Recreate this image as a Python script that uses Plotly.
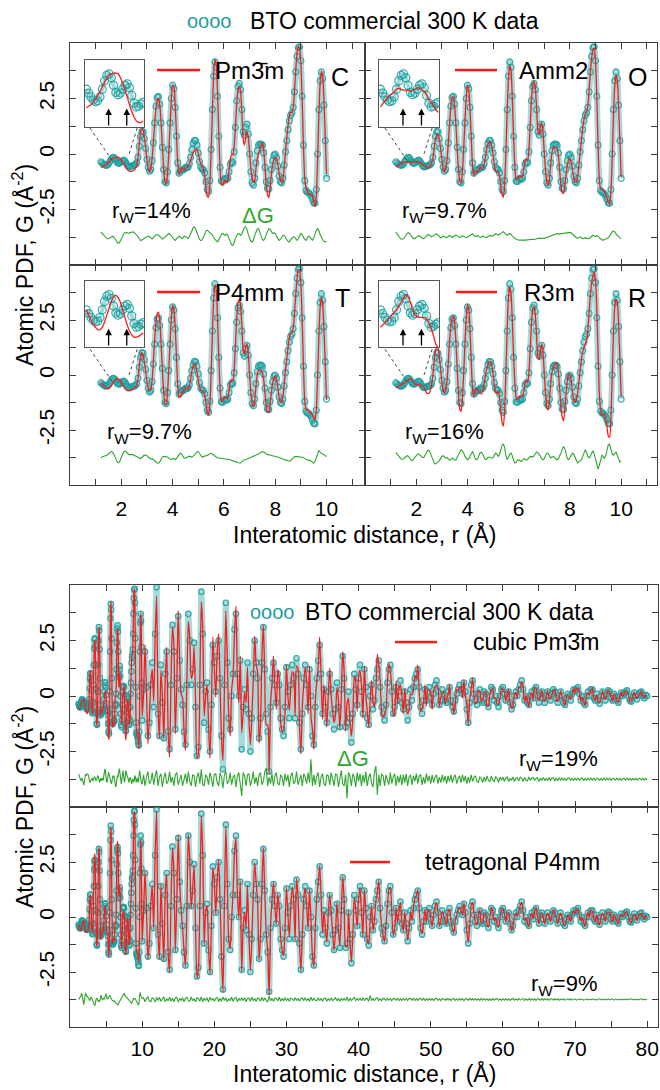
import numpy as np
import plotly.graph_objects as go

FONT = "Liberation Sans, Arial, Helvetica, sans-serif"
TEAL = "#1c9e9e"
TEAL_BAND = "rgba(70,180,180,0.5)"
RED = "#ff1a1a"
GREEN = "#2fa52f"
AXC = "#3c3c3c"

# ---------------- data: short range (1.2 - 10 A, step 0.05) ----------------
r_top = np.round(np.arange(1.2, 10.0001, 0.05), 2)
G_top = np.array([
    -0.35, -0.40, -0.45, -0.49, -0.51, -0.50, -0.45, -0.35, -0.24, -0.17,
    -0.15, -0.20, -0.30, -0.39, -0.42, -0.40, -0.35, -0.30, -0.28, -0.33,
    -0.43, -0.53, -0.58, -0.57, -0.54, -0.52, -0.50, -0.48, -0.40, -0.15,
    0.35, 0.80, 1.02, 1.00, 0.70, 0.25, -0.25, -0.60, -0.78, -0.70,
    -0.30, 0.50, 1.40, 2.15, 2.55, 2.60, 2.25, 1.40, 0.30, -0.70,
    -1.25, -1.30, -0.80, 0.20, 1.40, 2.50, 3.10, 2.95, 2.10, 0.80,
    -0.40, -0.87, -0.80, -0.70, -0.72, -0.68, -0.60, -0.62, -0.60, -0.45,
    -0.15, 0.20, 0.48, 0.62, 0.60, 0.40, 0.05, -0.35, -0.60, -0.68,
    -0.70, -0.85, -1.25, -1.60, -1.70, -1.20, 0.20, 2.00, 3.50, 4.15,
    3.90, 2.60, 0.80, -0.60, -1.22, -1.25, -1.15, -1.10, -1.15, -1.10,
    -0.80, -0.45, -0.35, -0.40, 0.10, 1.20, 2.40, 3.05, 3.18, 2.90,
    2.00, 1.00, 0.85, 1.20, 1.35, 0.90, 0.00, -0.80, -1.30, -1.40,
    -1.10, -0.40, 0.15, 0.40, 0.45, 0.45, 0.40, 0.05, -0.60, -1.25,
    -1.55, -1.58, -1.20, -0.70, -0.30, -0.05, 0.00, -0.15, -0.55, -1.00,
    -1.25, -1.30, -1.10, -0.50, 0.10, 0.60, 1.10, 1.50, 1.75, 1.85,
    2.10, 2.80, 3.70, 4.40, 4.80, 4.83, 4.20, 2.60, 0.40, -1.20,
    -1.65, -1.72, -1.75, -1.80, -1.90, -2.05, -2.20, -2.22, -1.60, 0.00,
    2.00, 3.30, 3.70, 3.40, 2.20, 0.60, -1.10])

# difference curves dG = G_data - G_model (short range refinements)
dG_cubic = np.array([
    .24, .17, .10, .03, -.03, -.07, -.07, -.03, .02, .04,
    .02, -.05, -.16, -.25, -.27, -.20, -.08, .06, .17, .22,
    .21, .18, .18, .21, .24, .24, .22, .17, .10, .02,
    -.10, -.15, -.12, -.08, -.05, -.02, .02, .05, .03, -.04,
    -.08, -.02, .06, .10, .12, .10, .04, -.04, -.08, -.05,
    .00, .05, .12, .17, .14, .05, .00, -.08, -.14, -.10,
    -.02, .05, .02, -.06, -.04, .05, .04, .00, -.05, .02,
    .15, .30, .42, .47, .38, .20, .02, -.10, -.15, -.12,
    .00, .15, .28, .32, .25, .20, .17, .10, .00, -.10,
    -.18, -.21, -.12, .02, .12, .17, .12, .08, .15, .10,
    -.05, -.22, -.34, -.36, -.25, -.05, .10, .17, .15, .08,
    .15, .32, .45, .47, .35, .12, -.08, -.18, -.21, -.12,
    .08, .25, .37, .39, .25, .05, -.10, -.14, -.05, .12,
    .28, .39, .35, .22, .17, .20, .17, .05, -.08, -.14,
    -.10, .00, .08, .09, .02, -.10, -.18, -.21, -.12, -.02,
    .02, .00, -.08, -.14, -.06, .08, .17, .12, .00, -.10,
    -.14, -.05, .06, .02, -.08, -.14, -.04, .15, .32, .39,
    .30, .12, -.02, -.10, -.18, -.21, -.20])
dG_amm2 = np.array([
    .23, .14, .05, -.03, -.08, -.09, -.07, .00, .10, .18,
    .21, .16, .06, -.02, -.06, -.05, -.02, .04, .08, .05,
    -.01, -.05, -.06, -.01, .07, .13, .10, .05, .02, .05,
    .10, .14, .16, .10, .02, -.03, .00, .05, .03, -.02,
    .00, .04, .08, .05, -.01, .02, .08, .10, .06, .01,
    -.02, .02, .06, .03, -.01, -.02, .00, .05, .10, .12,
    .16, .10, .03, .06, .08, .03, -.01, .02, .05, .02,
    -.01, -.02, .03, .07, .08, .05, .06, .12, .16, .14,
    .10, .13, .18, .22, .25, .20, .12, .10, .15, .17,
    .12, .05, .00, -.05, -.08, -.12, -.13, -.13, -.12, -.12,
    -.13, -.13, -.12, -.11, -.12, -.10, -.08, -.09, -.10, -.08,
    -.06, -.05, -.04, -.05, -.06, -.06, -.05, -.02, .00, .02,
    .04, .06, .09, .12, .15, .17, .16, .14, .15, .17,
    .18, .19, .20, .21, .22, .20, .22, .20, .14, .08,
    .03, -.02, -.05, .00, .02, -.03, -.06, -.05, -.02, -.05,
    -.07, -.06, .00, .06, .09, .06, .03, .07, .05, -.02,
    -.08, -.12, -.13, -.10, -.06, -.04, -.02, .05, .15, .25,
    .28, .25, .15, .08, .03, -.03, -.06])
dG_p4mm = np.array([
    .00, .02, .03, .05, .07, .11, .16, .23, .27, .25,
    .18, .04, -.12, -.23, -.23, -.15, .00, .15, .27, .30,
    .25, .18, .13, .13, .14, .13, .10, .07, .05, .02,
    -.03, -.06, .00, .08, .12, .10, .08, .02, -.04, -.06,
    -.05, -.10, -.18, -.22, -.25, -.26, -.20, -.08, .02, .05,
    .04, .04, .02, -.03, -.08, -.10, -.06, -.04, -.10, -.05,
    .05, .14, .20, .15, .05, -.02, -.03, .00, .05, .06,
    .04, .02, .06, .10, .18, .25, .27, .18, .08, .02,
    .04, .06, .05, .08, .12, .17, .19, .15, .10, .05,
    .02, -.02, -.02, -.03, -.04, -.06, -.08, -.09, -.08, -.07,
    -.09, -.11, -.10, -.12, -.15, -.18, -.21, -.24, -.26, -.25,
    -.20, -.14, -.10, -.09, -.08, -.05, -.02, .00, .02, .05,
    .08, .11, .14, .18, .22, .26, .27, .25, .20, .15,
    .13, .12, .12, .10, .08, .07, .05, .04, .02, .00,
    -.02, -.05, -.08, -.10, -.12, -.13, -.15, -.17, -.14, -.08,
    -.02, .03, .05, .04, .03, .05, .04, .03, .00, -.04,
    -.08, -.12, -.14, -.12, -.16, -.22, -.26, -.18, .02, .22,
    .32, .25, .18, .17, .12, .08, .04])
dG_r3m = np.array([
    .23, .15, .07, .00, -.06, -.08, -.07, .00, .06, .08,
    .05, -.05, -.12, -.14, -.07, .02, .09, .15, .17, .12,
    .04, -.01, .01, .12, .26, .33, .32, .22, .05, -.15,
    -.25, -.30, -.24, -.22, -.15, -.05, .05, .08, .04, -.02,
    .00, -.05, -.12, -.10, -.02, -.06, -.12, -.10, .02, .15,
    .30, .36, .30, .22, .05, -.05, -.10, -.06, .05, .20,
    .27, .12, -.05, -.10, -.05, .10, .22, .24, .12, -.02,
    -.10, -.08, .00, .02, .00, -.03, .00, .10, .20, .15,
    .05, .15, .35, .55, .62, .45, .10, -.10, .00, .15,
    .20, .08, -.12, -.25, -.22, -.12, -.10, -.15, -.18, -.13,
    -.05, -.07, -.12, -.08, .00, .05, .04, .02, .08, .18,
    .25, .22, .15, .05, -.05, -.10, -.05, .10, .20, .18,
    .05, -.02, .02, .05, -.02, -.08, -.10, -.05, .05, .20,
    .38, .50, .40, .15, -.05, -.10, .00, .10, .20, .15,
    .00, -.15, -.25, -.20, -.15, -.10, .05, .25, .35, .25,
    .05, -.02, .05, .20, .30, .15, -.10, -.40, -.53, -.35,
    -.05, .10, .05, -.05, .10, .35, .58, .60, .40, .15,
    .10, .20, .25, .10, -.10, -.20, -.15])

# ---------------- data: long range (10.2 - 80 A, step 0.2) ----------------
r_long = np.round(np.arange(10.2, 80.0001, 0.2), 2)
G_long = np.array([
    0.3, 2.0, 0.4, -1.8, -1.2, 0.5, 1.5, -0.5, 2.8, 4.9,
    -0.8, -1.8, 1.4, -0.3, -1.9, 1.0, 2.0, -1.6, -2.4, 0.5,
    3.2, 2.0, -1.5, 0.8, 3.6, 1.6, 0.3, -0.4, -1.6, -2.2,
    0.5, 3.7, 2.5, 0.5, 1.2, 2.4, -0.5, -2.7, -2.3, 0.5,
    4.7, 2.8, -1.2, 0.2, 0.6, -1.5, -2.5, -0.4, 2.3, 1.5,
    0.2, 1.8, 2.5, 0.8, -1.8, -3.3, 0.5, 4.2, 1.5, -1.0,
    -1.5, 0.0, 1.0, 3.0, 3.7, 1.0, 0.0, 1.6, -2.4, -0.5,
    0.3, -0.6, 1.5, -0.8, -2.5, -1.0, 1.0, 2.5, 1.5, 0.8,
    -1.9, -1.0, 1.5, 3.1, 1.2, -0.8, -1.6, -3.4, -0.5, 0.8,
    1.5, 0.5, -0.3, 1.0, 0.5, -1.0, -1.5, -1.8, -0.5, 1.3,
    0.2, -1.0, 0.5, 1.4, 0.8, -1.0, 1.7, 1.0, -1.2, -2.4,
    -0.8, 0.8, 1.4, 0.5, -0.5, 1.2, 0.0, -1.8, -2.2, -0.5,
    0.8, 1.6, 2.3, 1.0, -0.8, 0.3, -0.5, -1.2, 0.2, 1.0,
    0.3, -0.8, -1.5, -0.6, 0.6, -0.5, -1.4, 0.3, 1.8, 0.8,
    -1.4, -1.2, 0.2, -1.0, -2.1, -0.8, 1.0, 0.3, -0.4, 0.8,
    1.4, 0.2, -0.8, 1.2, 0.4, -1.0, -1.3, 0.0, 0.5, -0.6,
    -0.2, 0.8, 1.2, 1.6, 0.4, -0.5, -0.8, -1.1, -0.4, 0.6,
    1.2, 1.4, 0.2, -0.8, -0.5, 0.4, -0.2, 0.2, 0.7, -0.3,
    -0.6, 0.2, -0.3, -1.1, -0.5, 0.3, -0.2, 0.4, 0.8, 1.0,
    1.2, 0.4, -0.5, -0.8, -0.2, 0.3, -0.2, 0.2, 0.4, -0.1,
    -0.4, 0.1, 0.5, 0.7, 0.2, -0.4, -0.2, 0.3, 0.1, -0.2,
    -0.3, 0.2, 0.4, -0.2, -0.5, -0.7, -0.2, 0.1, 0.3, 0.5,
    0.3, 0.1, 0.6, 0.2, -0.6, -1.2, -0.3, 0.5, 0.7, 0.1,
    -0.2, -0.4, 0.1, 0.3, -0.2, -0.3, 0.2, 0.1, -0.3, -0.5,
    0.0, 0.4, 0.3, -0.2, 0.0, -0.3, -0.5, 0.0, 0.3, 0.4,
    0.1, -0.2, 0.1, 0.2, -0.3, -0.6, -0.4, 0.0, 0.2, 0.0,
    0.3, 0.5, 0.7, 0.3, -0.2, 0.0, -0.3, -0.4, 0.0, 0.2,
    -0.1, 0.3, 0.4, 0.0, -0.3, 0.1, 0.2, -0.1, -0.3, 0.0,
    0.2, 0.0, -0.2, 0.1, 0.3, 0.2, -0.1, -0.3, 0.0, 0.2,
    0.0, -0.3, -0.4, -0.1, 0.1, 0.0, -0.2, 0.1, 0.3, 0.2,
    0.3, 0.4, 0.1, -0.2, 0.0, -0.3, -0.4, 0.0, 0.2, 0.0,
    0.3, 0.3, -0.1, -0.2, 0.1, -0.2, -0.35, 0.0, 0.2, 0.0,
    -0.2, 0.1, 0.25, 0.2, -0.1, -0.2, 0.1, 0.0, -0.2, -0.3,
    0.0, 0.15, 0.0, 0.1, 0.2, 0.25, 0.0, -0.2, -0.25, 0.0,
    0.15, 0.0, -0.15, 0.05, 0.15, 0.2, 0.0, -0.1, 0.05, 0.0])
dG_cubic_long = np.array([
    .2, -.3, .1, .35, -.2, -.1, .3, -.25, .15, .4,
    -.3, .1, .25, -.35, .05, .3, -.2, -.1, .35, -.15,
    .1, -.3, .2, .3, -.25, .05, .2, -.3, -.05, .25,
    -.2, .35, -.1, -.3, .2, .15, -.35, .1, .3, -.2,
    .45, -.25, -.3, .2, .1, -.25, .3, .05, -.35, .2,
    .25, -.15, -.3, .3, .1, -.4, .2, .35, -.2, -.1,
    .3, -.25, .1, .2, -.35, .15, .3, -.2, -.75, .3,
    .15, -.3, .2, .25, -.3, -.05, .35, -.2, .1, -.3,
    .2, .3, -.25, -.1, .35, .5, -.3, .1, -.2, .25,
    -.3, .15, .3, -.2, -.25, .2, .1, -.3, .25, -.1,
    .2, -.35, .15, .3, -.2, -.1, .35, -.25, .05, .2,
    -.3, .25, .1, -.2, .3, -.15, .9, -.3, .2, -.25,
    .15, .3, -.35, .1, .25, -.2, -.3, .2, .15, -.25,
    .3, -.1, -.3, .25, .2, -.35, .1, .4, -.2, -.3,
    .2, -.85, .3, .15, -.3, .25, .1, -.35, .3, -.1,
    .25, -.3, .2, -.15, .35, -.3, .1, .25, -.2, -.35,
    .3, .6, -.7, .2, -.3, .25, .15, -.3, .2, -.1,
    -.25, .3, -.2, .1, .25, -.3, .15, -.15, .2, -.25,
    .2, -.15, .25, -.3, .1, .2, -.25, .15, -.1, .25,
    -.2, .15, .2, -.25, .1, -.2, .25, -.1, .15, -.2,
    .2, -.15, .1, .2, -.2, .1, -.15, .2, -.1, .15,
    -.2, .15, -.1, .2, -.15, .1, .2, -.2, .05, .15,
    -.15, .2, -.1, .15, -.2, .1, -.15, .2, -.1, .1,
    .15, -.1, -.15, .1, .05, -.15, .1, -.1, .15, -.05,
    -.1, .15, -.05, -.1, .1, .05, -.15, .1, -.05, .1,
    -.1, .05, .1, -.1, .05, -.05, .1, -.1, .05, .08,
    -.08, .1, .05, -.1, .08, -.05, -.08, .1, -.05, .05,
    .08, -.06, .05, .08, -.1, .05, -.05, .08, -.06, .04,
    -.05, .08, -.06, .05, .07, -.08, .04, -.05, .07, -.04,
    .06, -.05, .04, -.07, .05, .06, -.05, .04, -.06, .05,
    -.04, .06, -.05, .04, .05, -.06, .04, -.05, .05, -.03,
    .05, -.04, .05, -.05, .04, .03, -.05, .04, -.04, .05,
    -.04, .05, -.03, .04, -.05, .04, .03, -.04, .05, -.03,
    .04, -.05, .03, .04, -.04, .05, -.03, .04, -.04, .03,
    -.03, .04, -.04, .03, .04, -.03, .04, -.04, .03, -.02])
dG_p4mm_long = np.array([
    .08, -.1, .05, .12, -.06, -.1, .08, .04, -.12, .1,
    -.05, .1, -.08, .05, .12, -.1, .04, -.06, .1, -.08,
    .06, -.1, .08, .1, -.12, .05, -.04, .08, -.1, .06,
    .1, -.05, -.08, .12, -.06, .04, -.1, .08, .05, -.08,
    .12, -.1, .06, -.05, .08, -.12, .1, -.04, .06, -.08,
    .05, .1, -.1, .06, -.08, .12, -.05, .08, -.1, .04,
    -.06, .1, -.08, .05, .1, -.1, .06, -.05, .08, -.06,
    .08, -.1, .05, .06, -.08, .1, -.06, .04, -.08, .06,
    .05, -.08, .1, -.06, .08, -.05, -.1, .15, -.06, .05,
    -.08, .06, .05, -.06, .1, -.08, .04, -.05, .08, -.06,
    .05, -.08, .06, .04, -.06, .08, -.05, .06, -.08, .05,
    .06, -.05, .08, -.06, .04, -.08, .1, -.05, .06, -.04,
    -.06, .08, -.05, .06, -.08, .05, .06, -.06, .04, -.05,
    .06, -.05, .04, .08, -.06, .05, -.08, .06, -.04, .05,
    -.05, .12, -.08, .06, -.05, .04, .1, -.06, .05, -.04,
    .06, -.05, .08, -.06, .04, .05, -.08, .18, -.05, .06,
    -.06, .05, .08, -.05, .04, -.06, .05, .04, -.05, .06,
    -.04, .05, -.06, .04, .05, -.04, .06, -.05, .04, -.05,
    .05, -.04, .06, -.05, .04, .05, -.04, .06, -.05, .04,
    -.05, .04, .05, -.04, .06, -.05, .04, -.04, .05, -.03,
    .04, -.05, .04, .05, -.04, .03, -.05, .04, .03, -.04,
    .05, -.03, .04, -.05, .03, .04, -.04, .03, -.04, .05,
    -.03, .04, -.05, .03, .04, -.04, .05, -.03, .04, -.03,
    .04, -.03, .03, -.04, .05, -.03, .04, -.03, .03, -.04,
    .03, -.04, .04, -.03, .03, .04, -.03, .03, -.04, .03,
    -.03, .04, -.03, .03, -.04, .03, .04, -.03, .03, -.03,
    .04, -.03, .03, .05, -.04, .03, -.03, .04, -.03, .03,
    -.03, .03, -.04, .03, .03, -.03, .04, -.03, .03, -.02,
    .03, -.03, .02, .03, -.03, .04, -.02, .03, -.03, .02,
    -.02, .03, -.03, .02, .03, -.02, .03, -.03, .02, .03,
    -.03, .02, .03, -.02, .02, -.03, .02, .03, -.02, .02,
    -.02, .03, -.02, .02, -.03, .02, .02, -.02, .03, -.02,
    .02, -.02, .03, -.02, .02, .02, -.03, .02, -.02, .02,
    -.02, .02, -.02, .03, -.02, .02, -.02, .02, .02, -.02,
    .02, -.02, .02, -.02, .02, .03, -.02, .02, -.02, .01])

for a in (G_top, dG_cubic, dG_amm2, dG_p4mm, dG_r3m):
    assert len(a) == len(r_top), len(a)
for a in (G_long, dG_cubic_long, dG_p4mm_long):
    assert len(a) == len(r_long), len(a)

# labels
top_models = ["Pm3\u0304m", "Amm2", "P4mm", "R3m"]
top_letters = ["C", "O", "T", "R"]
top_rw = ["14%", "9.7%", "9.7%", "16%"]
top_diffs = [dG_cubic, dG_amm2, dG_p4mm, dG_r3m]
bottom_models = ["cubic Pm3\u0304m", "tetragonal P4mm"]
bottom_rw = ["19%", "9%"]
data_label = "BTO commercial 300 K data"
x_title = "Interatomic distance, r (\u00c5)"
y_title = "Atomic PDF, G (\u00c5<sup>-2</sup>)"
DIFF_OFFSET = -3.75

r_all = np.concatenate([r_top, r_long])
G_all = np.concatenate([G_top, G_long])
bottom_diffs = [np.concatenate([dG_cubic, dG_cubic_long]),
                np.concatenate([dG_p4mm, dG_p4mm_long])]

# ---------------- geometry (pixels) ----------------
W, H = 660, 1090
def fx(px): return px / W
def fy(py): return 1 - py / H

top_panels = [(70, 365, 43, 265), (365, 657, 43, 265), (70, 365, 265, 485), (365, 657, 265, 485)]
top_xmax = [11.5, 11.4, 11.5, 11.4]
inset_boxes = [(85, 144, 60, 127), (379, 439, 60, 127), (85, 144, 281, 347), (379, 439, 281, 347)]
bottom_panels = [(70, 658, 585, 807), (70, 658, 807, 1027)]

fig = go.Figure()
layout = {}
shapes = []
annotations = []

def txt(x, y, s, size, color="black", xanchor="left", angle=0):
    annotations.append(dict(x=fx(x), y=fy(y), xref="paper", yref="paper", text=s, showarrow=False,
                            xanchor=xanchor, yanchor="middle", textangle=angle,
                            font=dict(size=size, color=color, family=FONT)))

base_axis = dict(showline=True, linecolor=AXC, linewidth=1.3, mirror="ticks", ticks="inside",
                 ticklen=6, tickwidth=1.2, tickcolor=AXC, showgrid=False, zeroline=False,
                 tickfont=dict(size=21, color="black", family=FONT))
yvals = [-3.75, -2.5, -1.25, 0, 1.25, 2.5, 3.75]
ytext = ["", "-2.5", "", "0", "", "2.5", ""]

def add_data(xa, ya, r, G, fit, diff, msize, band_w):
    fig.add_trace(go.Scatter(x=r, y=G, mode="lines", line=dict(color=TEAL_BAND, width=band_w, shape="spline", smoothing=0.6),
                             xaxis=xa, yaxis=ya, showlegend=False, hoverinfo="skip"))
    fig.add_trace(go.Scatter(x=r, y=G, mode="markers",
                             marker=dict(symbol="circle-open", size=msize, color=TEAL, line=dict(width=1.2), opacity=0.85),
                             xaxis=xa, yaxis=ya, showlegend=False, hoverinfo="skip"))
    fig.add_trace(go.Scatter(x=r, y=fit, mode="lines", line=dict(color=RED, width=1.3, shape="spline", smoothing=0.6),
                             xaxis=xa, yaxis=ya, showlegend=False, hoverinfo="skip"))
    if diff is not None:
        fig.add_trace(go.Scatter(x=r, y=diff + DIFF_OFFSET, mode="lines", line=dict(color=GREEN, width=1.1),
                                 xaxis=xa, yaxis=ya, showlegend=False, hoverinfo="skip"))

# ---------------- top 2x2 panels ----------------
inset_mask = r_top <= 2.46
arrow_r = [1.69, 2.09]
link_lines = [((0.78, 1.17), (1.63, -0.27)), ((2.62, 1.17), (2.27, -0.12))]
for i in range(4):
    n = i + 1
    xa, ya = ("x" if n == 1 else f"x{n}"), ("y" if n == 1 else f"y{n}")
    x0, x1, y0, y1 = top_panels[i]
    fit = G_top - top_diffs[i]
    add_data(xa, ya, r_top, G_top, fit, top_diffs[i], 6, 6)
    bottom_row = i >= 2
    layout["xaxis" if n == 1 else f"xaxis{n}"] = dict(base_axis, domain=[fx(x0), fx(x1)], anchor=ya,
        range=[0, top_xmax[i]], tickvals=list(range(1, 12)),
        ticktext=[str(v) if v % 2 == 0 else "" for v in range(1, 12)],
        showticklabels=bottom_row, ticklabelstandoff=5)
    layout["yaxis" if n == 1 else f"yaxis{n}"] = dict(base_axis, domain=[fy(y1), fy(y0)], anchor=xa,
        range=[-5, 5], tickvals=yvals, ticktext=ytext, tickangle=-90,
        showticklabels=(i % 2 == 0), ticklabelstandoff=6)
    # inset
    m = n + 6
    bx0, bx1, by0, by1 = inset_boxes[i]
    ixa, iya = f"x{m}", f"y{m}"
    fig.add_trace(go.Scatter(x=r_top[inset_mask], y=G_top[inset_mask], mode="lines",
                             line=dict(color=TEAL_BAND, width=4, shape="spline"), xaxis=ixa, yaxis=iya,
                             showlegend=False, hoverinfo="skip"))
    fig.add_trace(go.Scatter(x=r_top[inset_mask], y=G_top[inset_mask], mode="markers",
                             marker=dict(symbol="circle-open", size=8, color=TEAL, line=dict(width=1.3), opacity=0.85),
                             xaxis=ixa, yaxis=iya, showlegend=False, hoverinfo="skip"))
    fig.add_trace(go.Scatter(x=r_top[inset_mask], y=fit[inset_mask], mode="lines",
                             line=dict(color=RED, width=1.3, shape="spline"), xaxis=ixa, yaxis=iya,
                             showlegend=False, hoverinfo="skip"))
    layout[f"xaxis{m}"] = dict(domain=[fx(bx0), fx(bx1)], anchor=iya, range=[1.17, 2.47], showline=True,
                               mirror=True, linecolor="#555555", linewidth=1, ticks="", showticklabels=False,
                               showgrid=False, zeroline=False)
    layout[f"yaxis{m}"] = dict(domain=[fy(by1), fy(by0)], anchor=ixa, range=[-0.84, 0.03], showline=True,
                               mirror=True, linecolor="#555555", linewidth=1, ticks="", showticklabels=False,
                               showgrid=False, zeroline=False)
    for ar in arrow_r:
        annotations.append(dict(x=ar, y=-0.60, ax=ar, ay=-0.84, xref=ixa, yref=iya, axref=ixa, ayref=iya,
                                text="", showarrow=True, arrowhead=2, arrowsize=1, arrowwidth=1.3,
                                arrowcolor="black"))
    for (p, q) in link_lines:
        shapes.append(dict(type="line", xref=xa, yref=ya, x0=p[0], y0=p[1], x1=q[0], y1=q[1],
                           line=dict(color="#444444", width=1, dash="dot")))

# legend keys / labels for top panels
key_pos = [(157, 200, 70), (455, 497, 70), (157, 200, 292), (456, 497, 292)]
model_x = [213, 517, 213, 522]
letter_pos = [(340, 77), (637, 77), (342, 298), (637, 298)]
rw_pos = [(110, 212), (400, 212), (105, 433), (403, 433)]
for i in range(4):
    kx0, kx1, ky = key_pos[i]
    shapes.append(dict(type="line", xref="paper", yref="paper", x0=fx(kx0), x1=fx(kx1), y0=fy(ky), y1=fy(ky),
                       line=dict(color=RED, width=2.5)))
    txt(model_x[i], ky, top_models[i], 24)
    txt(letter_pos[i][0], letter_pos[i][1], top_letters[i], 25, xanchor="center")
    txt(rw_pos[i][0], rw_pos[i][1], "r<sub>W</sub>=" + top_rw[i], 22)
txt(240, 215, "\u0394G", 22, color=GREEN)

txt(185, 21, "oooo", 20, color=TEAL)
txt(248, 21, data_label, 23)

txt(365, 534, x_title, 23, xanchor="center")
txt(23, 265, y_title, 23, xanchor="center", angle=-90)

# ---------------- bottom long-range panels ----------------
for j in range(2):
    n = 5 + j
    xa, ya = f"x{n}", f"y{n}"
    x0, x1, y0, y1 = bottom_panels[j]
    fit = G_all - bottom_diffs[j]
    add_data(xa, ya, r_all, G_all, fit, bottom_diffs[j], 5.5, 6)
    layout[f"xaxis{n}"] = dict(base_axis, domain=[fx(x0), fx(x1)], anchor=ya, range=[0, 81.5],
        tickvals=list(range(5, 81, 5)), ticktext=[str(v) if v % 10 == 0 else "" for v in range(5, 81, 5)],
        showticklabels=(j == 1), ticklabelstandoff=3)
    layout[f"yaxis{n}"] = dict(base_axis, domain=[fy(y1), fy(y0)], anchor=xa, range=[-5, 5],
        tickvals=yvals, ticktext=ytext, tickangle=-90, ticklabelstandoff=6)

txt(248, 612, "oooo", 20, color=TEAL)
txt(303, 612, data_label, 23)
shapes.append(dict(type="line", xref="paper", yref="paper", x0=fx(395), x1=fx(437), y0=fy(642), y1=fy(642),
                   line=dict(color=RED, width=2.5)))
txt(602, 642, bottom_models[0], 23, xanchor="right")
txt(335, 758, "\u0394G", 22, color=GREEN)
txt(600, 760, "r<sub>W</sub>=" + bottom_rw[0], 22, xanchor="right")
shapes.append(dict(type="line", xref="paper", yref="paper", x0=fx(350), x1=fx(390), y0=fy(862), y1=fy(862),
                   line=dict(color=RED, width=2.5)))
txt(602, 862, bottom_models[1], 23, xanchor="right")
txt(600, 985, "r<sub>W</sub>=" + bottom_rw[1], 22, xanchor="right")

txt(365, 1073, x_title, 23, xanchor="center")
txt(23, 807, y_title, 23, xanchor="center", angle=-90)

fig.update_layout(width=W, height=H, margin=dict(l=0, r=0, t=0, b=0), paper_bgcolor="white",
                  plot_bgcolor="white", showlegend=False, font=dict(family=FONT, color="black"),
                  shapes=shapes, annotations=annotations, **layout)
fig.write_html("out.html", config={"displayModeBar": False},
               post_script="document.body.style.margin='0';document.body.style.overflow='hidden';")
